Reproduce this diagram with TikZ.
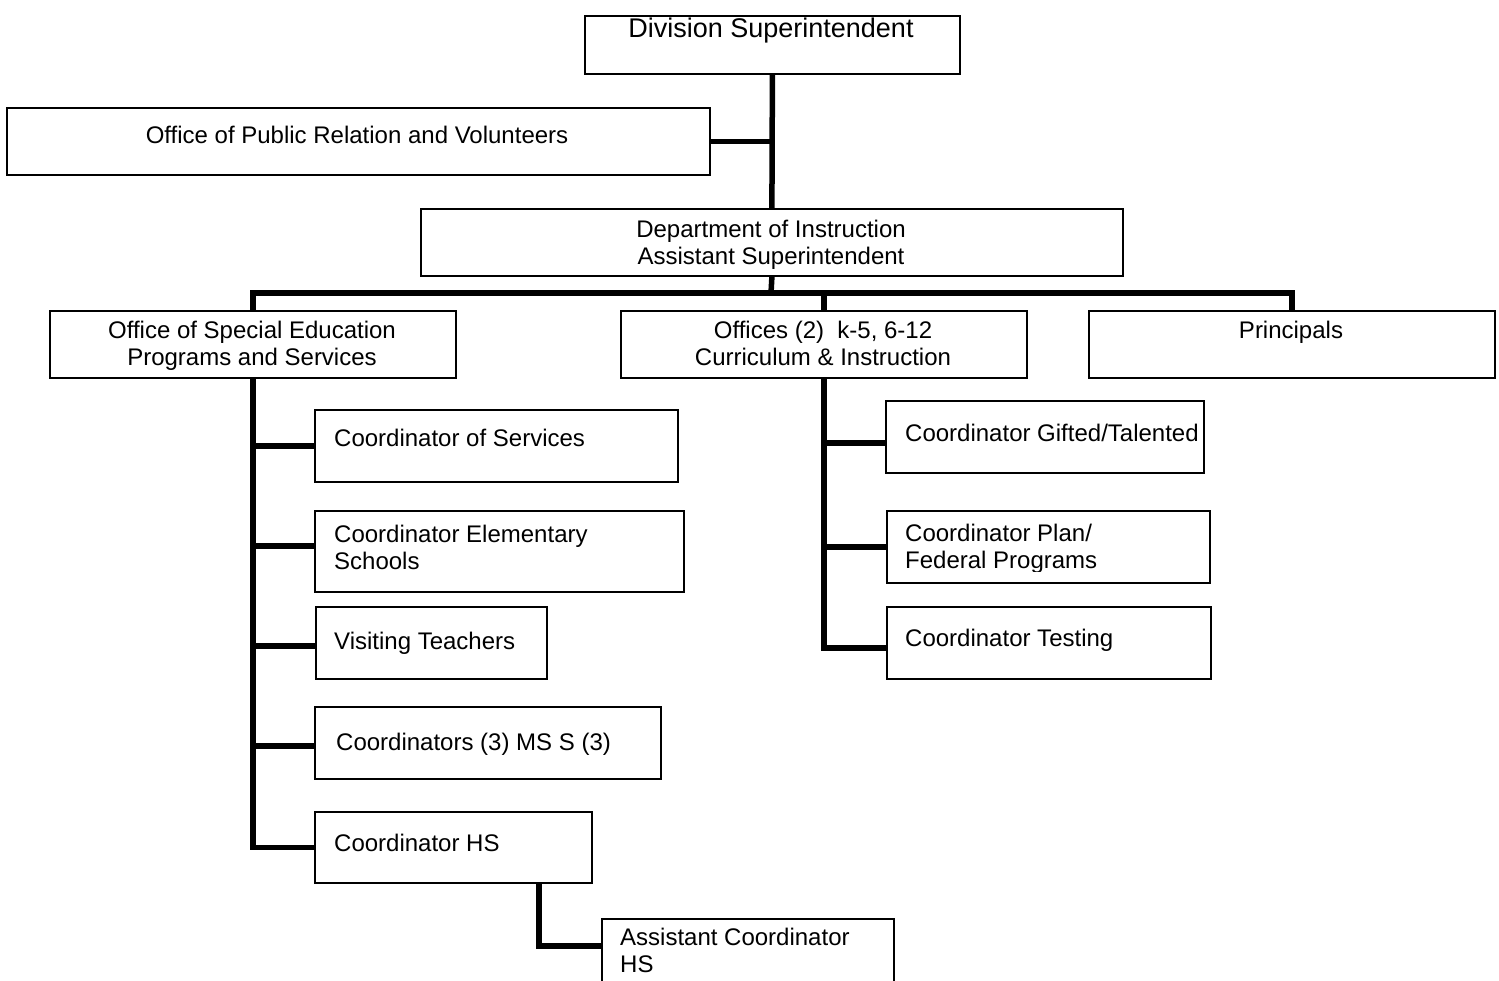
\documentclass[tikz,border=0pt]{standalone}
\usepackage{fontspec}
\setmainfont{Liberation Sans}
\begin{document}
\begin{tikzpicture}[x=1pt,y=-1pt,
  box/.style={draw,line width=1.8pt,fill=white,rectangle,inner sep=0pt,anchor=north west},
  link/.style={line width=5.5pt,line join=miter},
  lbl/.style={inner sep=0pt,font=\fontsize{24}{27}\selectfont},
  lblc/.style={lbl,anchor=base,align=center},
  lbll/.style={lbl,anchor=base west,align=left},
  big/.style={inner sep=0pt,anchor=base,font=\fontsize{27}{31}\selectfont}]
\clip (0,0) rectangle (1499,981);
\useasboundingbox (0,0) rectangle (1499,981);
\fill[white] (0,0) rectangle (1499,981);

% ---- boxes ----
\node[box,minimum width=375pt,minimum height=58pt] (ds)   at (584,15)  {};
\node[box,minimum width=703pt,minimum height=67pt] (pr)   at (6,107)   {};
\node[box,minimum width=702pt,minimum height=67pt] (dept) at (420,208) {};
\node[box,minimum width=406pt,minimum height=67pt] (se)   at (49,310)  {};
\node[box,minimum width=406pt,minimum height=67pt] (ci)   at (620,310) {};
\node[box,minimum width=406pt,minimum height=67pt] (prin) at (1088,310) {};

\node[box,minimum width=363pt,minimum height=72pt] (cs)   at (314,409) {};
\node[box,minimum width=369pt,minimum height=81pt] (ces)  at (314,510) {};
\node[box,minimum width=231pt,minimum height=72pt] (vt)   at (315,606) {};
\node[box,minimum width=346pt,minimum height=72pt] (cms)  at (314,706) {};
\node[box,minimum width=277pt,minimum height=71pt] (chs)  at (314,811) {};
\node[box,minimum width=292pt,minimum height=80pt] (ach)  at (601,918) {};

\node[box,minimum width=318pt,minimum height=72pt] (cgt)  at (885,400) {};
\node[box,minimum width=323pt,minimum height=72pt] (cpf)  at (886,510) {};
\node[box,minimum width=324pt,minimum height=72pt] (cte)  at (886,606) {};

% ---- labels (multi-line labels sit on the baseline of their last line) ----
\node[big] (tds) at (771,38) {Division Superintendent};
\node[lblc] (tpr) at (357,144) {Office of Public Relation and Volunteers};
\node[lblc] (tdept) at (771,265) {Department of Instruction\\Assistant Superintendent};
\node[lblc] (tse) at (252,366) {Office of Special Education\\Programs and Services};
\node[lblc] (tci) at (823,366) {Offices (2)\ \ k-5, 6-12\\Curriculum \& Instruction};
\node[lblc] (tprin) at (1291,339) {Principals};

\node[lbll] (tcs)  at (334,446) {Coordinator of Services};
\node[lbll] (tces) at (334,569) {Coordinator Elementary\\Schools};
\node[lbll] (tvt)  at (334,649) {Visiting Teachers};
\node[lbll] (tcms) at (336,750) {Coordinators (3) MS S (3)};
\node[lbll] (tchs) at (334,851) {Coordinator HS};
\node[lbll] (tach) at (620,972) {Assistant Coordinator\\HS};

\node[lbll] (tcgt) at (905,441) {Coordinator Gifted/Talented};
\begin{scope}
  \clip (886,510) rectangle (1209,571);
  \node[lbll] (tcpf) at (905,568) {Coordinator Plan/\\Federal Programs};
\end{scope}
\node[lbll] (tcte) at (905,646) {Coordinator Testing};

% ---- connectors ----
\coordinate (bus) at (771,293);
\draw[link] (ds.south) -- (dept.north);
\draw[link] (pr.east) -- (pr.east -| ds.south);
\draw[link] (dept.south) -- (bus);
\draw[link] (se.north) |- (bus) -| (prin.north);
\draw[link] (ci.north) -- (ci.north |- bus);

% special education branch
\draw[link] (se.south) |- (chs.west);
\draw[link] (se.south |- cs.west)  -- (cs.west);
\draw[link] (se.south |- 0,546) -- (ces.west |- 0,546);
\draw[link] (se.south |- 0,646) -- (vt.west |- 0,646);
\draw[link] (se.south |- 0,746) -- (cms.west |- 0,746);
\coordinate (hsk) at (539,946);
\draw[link] (chs.south -| hsk) |- (ach.west |- hsk);

% curriculum branch
\draw[link] (ci.south) |- (cte.west |- 0,648);
\draw[link] (ci.south |- 0,443) -- (cgt.west |- 0,443);
\draw[link] (ci.south |- cpf.west) -- (cpf.west);
\end{tikzpicture}
\end{document}
